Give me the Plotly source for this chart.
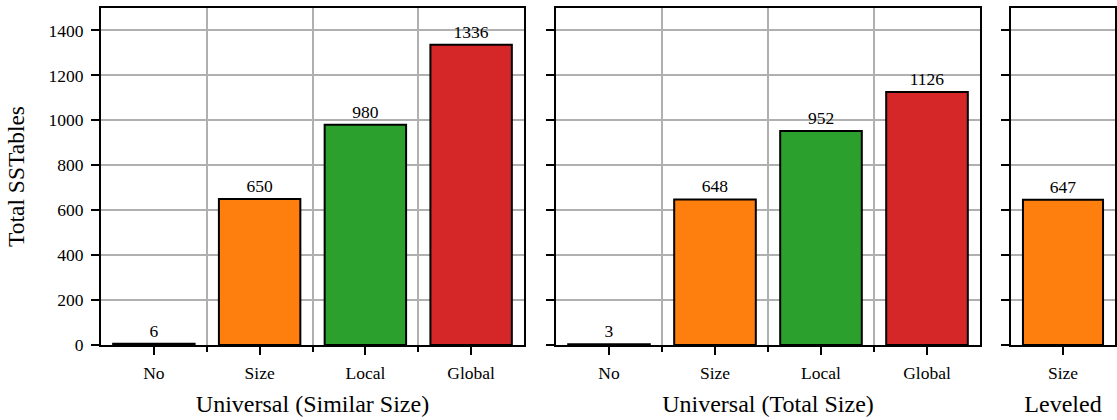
import plotly.graph_objects as go

# Total SSTables per compaction mode, grouped by strategy
sim_cats = ["No", "Size", "Local", "Global"]
sim_vals = [6, 650, 980, 1336]

tot_cats = ["No", "Size", "Local", "Global"]
tot_vals = [3, 648, 952, 1126]

lev_cats = ["Size"]
lev_vals = [647]

panel_titles = ["Universal (Similar Size)", "Universal (Total Size)", "Leveled"]
y_ticks = [0, 200, 400, 600, 800, 1000, 1200, 1400]

palette = {"No": "#1f77b4", "Size": "#ff7f0e", "Local": "#2ca02c", "Global": "#d62728"}

FONT = "Liberation Serif"
GRID = "#b0b0b0"
TICK_SIZE = 17.5
TITLE_SIZE = 24

fig = go.Figure()

panels = [
    (sim_cats, sim_vals, "x", "y"),
    (tot_cats, tot_vals, "x2", "y2"),
    (lev_cats, lev_vals, "x3", "y3"),
]

for cats, vals, xa, ya in panels:
    fig.add_trace(go.Bar(
        x=list(range(len(cats))),
        y=vals,
        width=0.77,
        marker=dict(color=[palette[c] for c in cats],
                    line=dict(color="black", width=2)),
        text=[str(v) for v in vals],
        textposition="outside",
        textfont=dict(family=FONT, size=TICK_SIZE, color="black"),
        cliponaxis=False,
        xaxis=xa, yaxis=ya,
        showlegend=False,
    ))

W = 1014.0
domains = [(0, 423 / W), (455 / W, 879 / W), (910 / W, 1.0)]

for i, ((cats, vals, xa, ya), dom, title) in enumerate(zip(panels, domains, panel_titles)):
    suffix = "" if i == 0 else str(i + 1)
    n = len(cats)
    minor = dict(tickvals=[k + 0.5 for k in range(n - 1)], ticks="outside",
                 ticklen=5, tickwidth=1.5, tickcolor="black",
                 showgrid=True, gridcolor=GRID, gridwidth=1.5)
    fig.update_layout(**{
        "xaxis" + suffix: dict(
            domain=list(dom),
            range=[-0.5, n - 0.5],
            tickmode="array",
            tickvals=list(range(n)),
            ticktext=cats,
            ticks="outside", ticklen=8, tickwidth=2, tickcolor="black",
            showgrid=False,
            minor=minor if n > 1 else dict(showgrid=False),
            showline=True, linecolor="black", linewidth=2, mirror=True,
            zeroline=False,
            tickfont=dict(family=FONT, size=TICK_SIZE, color="black"),
            ticklabelstandoff=3,
            title=dict(text=title, font=dict(family=FONT, size=TITLE_SIZE, color="black"),
                       standoff=13),
            anchor="y" + suffix,
            fixedrange=True,
        ),
        "yaxis" + suffix: dict(
            domain=[0, 1],
            range=[0, 1500],
            tickmode="array",
            tickvals=y_ticks,
            showticklabels=(i == 0),
            ticks="outside", ticklen=8, tickwidth=2, tickcolor="black",
            showgrid=True, gridcolor=GRID, gridwidth=1.5,
            showline=True, linecolor="black", linewidth=2, mirror=True,
            zeroline=False,
            tickfont=dict(family=FONT, size=TICK_SIZE, color="black"),
            anchor="x" + suffix,
            matches=None if i == 0 else "y",
            fixedrange=True,
            ticklabelstandoff=4,
        ),
    })

fig.update_layout(
    yaxis_title=dict(text="Total SSTables", font=dict(family=FONT, size=23.5, color="black"),
                     standoff=17),
    width=1117, height=420,
    margin=dict(l=101, r=2, t=8, b=75, autoexpand=False),
    plot_bgcolor="white", paper_bgcolor="white",
    bargap=0.2,
    font=dict(family=FONT, color="black"),
)

fig.write_html("out.html")
